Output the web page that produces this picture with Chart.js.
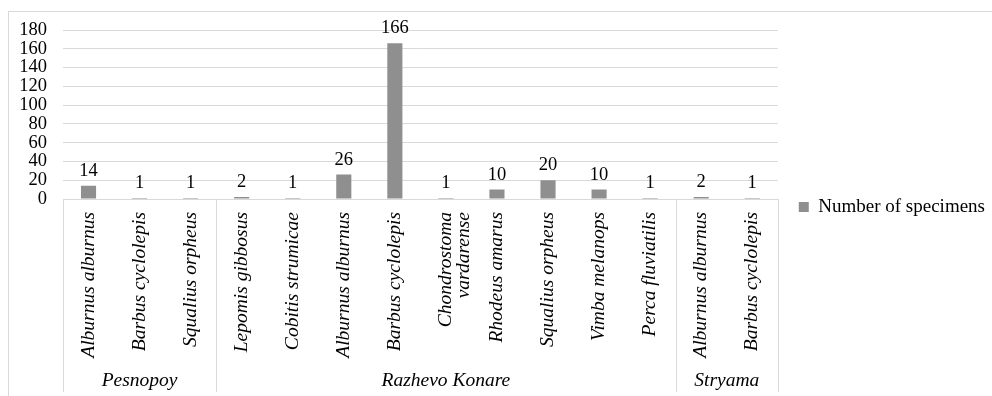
<!DOCTYPE html>
<html>
<head>
<meta charset="utf-8">
<script src="https://cdn.jsdelivr.net/npm/chart.js@4/dist/chart.umd.min.js"></script>
<style>
  html, body { margin: 0; padding: 0; background: #fff; overflow: hidden; }
  #box { position: absolute; left: 8px; top: 11px; width: 1000px; height: 400px; border: 1px solid #d9d9d9; }
  #wrap { position: absolute; left: 0; top: 0; width: 986px; height: 384px; }
</style>
</head>
<body>
<div id="box"><div id="wrap"><canvas id="chart"></canvas></div></div>
<script>
const species = ['Alburnus alburnus', 'Barbus cyclolepis', 'Squalius orpheus',
  'Lepomis gibbosus', 'Cobitis strumicae', 'Alburnus alburnus', 'Barbus cyclolepis',
  ['Chondrostoma', 'vardarense'], 'Rhodeus amarus', 'Squalius orpheus', 'Vimba melanops',
  'Perca fluviatilis', 'Alburnus alburnus', 'Barbus cyclolepis'];
const sites = ['Pesnopoy', 'Razhevo Konare', 'Stryama'];
const siteCounts = [3, 9, 2];
const specimens = [14, 1, 1, 2, 1, 26, 166, 1, 10, 20, 10, 1, 2, 1];
const yTicks = [0, 20, 40, 60, 80, 100, 120, 140, 160, 180];

const serif = "'Liberation Serif', 'Times New Roman', serif";
const gridColor = '#d9d9d9';

// value labels above the bars
const valueLabels = {
  id: 'valueLabels',
  afterDatasetsDraw(chart) {
    const ctx = chart.ctx;
    const meta = chart.getDatasetMeta(0);
    ctx.save();
    ctx.font = '18.5px ' + serif;
    ctx.fillStyle = '#000';
    ctx.textAlign = 'center';
    ctx.textBaseline = 'alphabetic';
    meta.data.forEach((bar, i) => {
      ctx.fillText(specimens[i], bar.x, bar.y - 10);
    });
    ctx.restore();
  }
};

// site group labels and separators under the species labels
const siteAxis = {
  id: 'siteAxis',
  afterDraw(chart) {
    const ctx = chart.ctx;
    const x = chart.scales.x;
    const top = x.top;
    const bottom = 380;
    ctx.save();
    ctx.strokeStyle = gridColor;
    ctx.lineWidth = 1;
    ctx.font = 'italic 19.5px ' + serif;
    ctx.fillStyle = '#000';
    ctx.textAlign = 'center';
    ctx.textBaseline = 'middle';
    let start = 0;
    const edges = [x.left];
    sites.forEach((s, k) => {
      const end = start + siteCounts[k];
      const l = k === 0 ? x.left : x.getPixelForValue(start - 0.5);
      const r = k === sites.length - 1 ? x.right : x.getPixelForValue(end - 0.5);
      edges.push(r);
      ctx.fillText(s, (l + r) / 2, 369);
      start = end;
    });
    edges.forEach(px => {
      const p = Math.round(px) + 0.5;
      ctx.beginPath();
      ctx.moveTo(p, top);
      ctx.lineTo(p, bottom);
      ctx.stroke();
    });
    ctx.restore();
  }
};

new Chart(document.getElementById('chart'), {
  type: 'bar',
  data: {
    labels: species,
    datasets: [{
      label: 'Number of specimens',
      data: specimens,
      backgroundColor: '#8f8f8f',
      barPercentage: 0.37,
      categoryPercentage: 0.8
    }]
  },
  options: {
    responsive: true,
    maintainAspectRatio: false,
    animation: false,
    layout: { autoPadding: false, padding: { top: 18, right: 0, bottom: 12, left: 0 } },
    plugins: {
      tooltip: { enabled: false },
      legend: {
        position: 'right',
        labels: {
          boxWidth: 10,
          boxHeight: 10,
          padding: 21,
          color: '#000',
          font: { family: serif, size: 19 }
        }
      }
    },
    scales: {
      x: {
        grid: { display: false, drawTicks: false },
        border: { display: true, color: gridColor },
        ticks: {
          autoSkip: false,
          maxRotation: 90,
          minRotation: 90,
          padding: 13,
          color: '#000',
          font: { family: serif, size: 19.5, style: 'italic', lineHeight: 0.9 }
        },
        afterFit(scale) { scale.height = 185; }
      },
      y: {
        min: 0,
        max: 180,
        afterBuildTicks(scale) { scale.ticks = yTicks.map(v => ({ value: v })); },
        grid: { color: gridColor, drawTicks: true, tickLength: 13, tickColor: 'rgba(0,0,0,0)' },
        border: { display: false },
        ticks: {
          autoSkip: false,
          padding: 3,
          color: '#000',
          font: { family: serif, size: 18.5 }
        },
        afterFit(scale) { scale.width = 54; }
      }
    }
  },
  plugins: [valueLabels, siteAxis]
});
</script>
</body>
</html>
